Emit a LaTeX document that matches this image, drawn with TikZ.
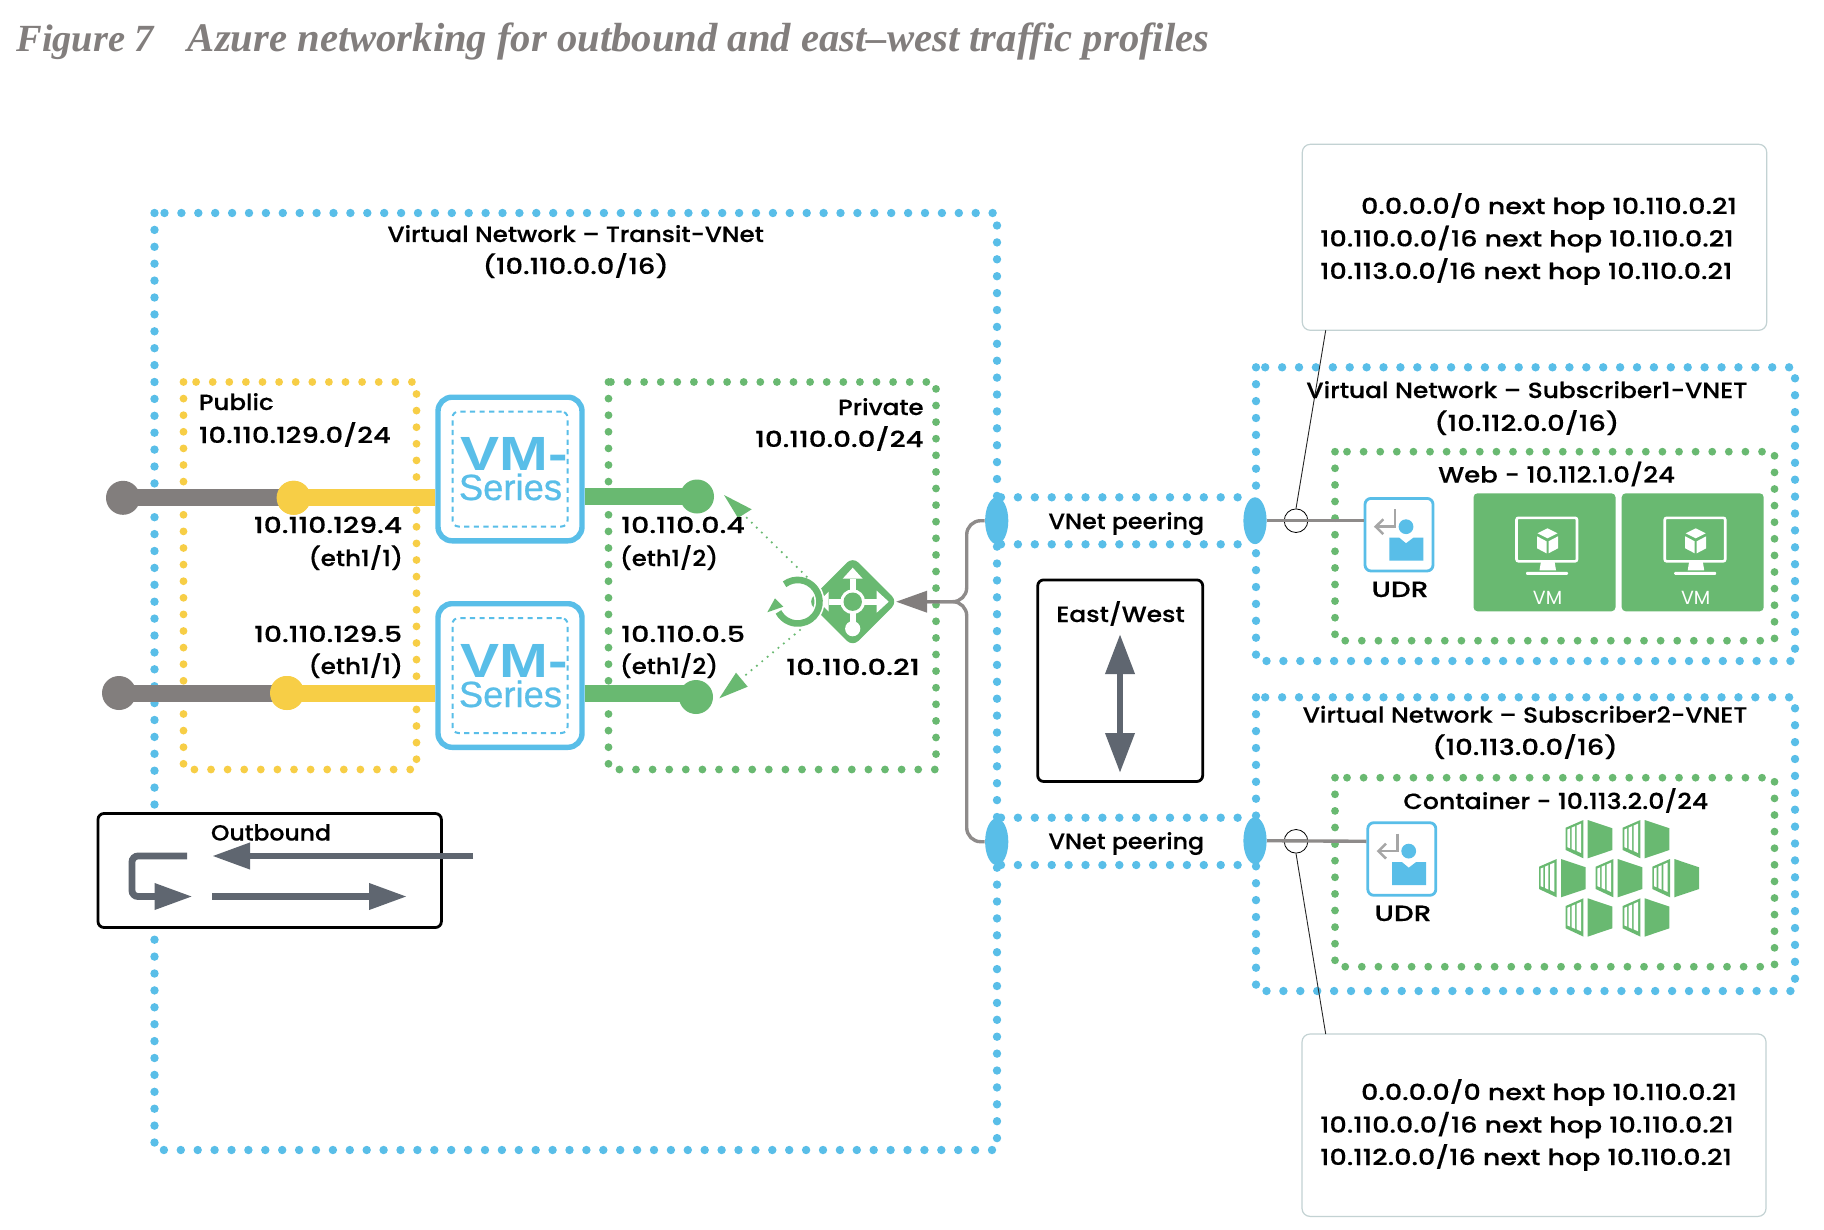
\documentclass[tikz,border=0pt]{standalone}
\usepackage{graphicx}
\usepackage{fontspec}
\usetikzlibrary{arrows.meta,shapes.geometric}
\setmainfont{Poppins Medium}[FakeBold=0.35]
\newfontfamily\lightf{Poppins}
\newfontfamily\ttlfont{Liberation Serif}
\newfontfamily\vmfont{Liberation Sans}[FakeBold=0.7]
\newfontfamily\vmwide{Liberation Sans}[FakeStretch=1.22]
\newcommand{\sx}[2]{\scalebox{#1}[1]{#2}}
\definecolor{azblue}{HTML}{59BEE8}
\definecolor{azgreen}{HTML}{69B971}
\definecolor{azyellow}{HTML}{F7CE46}
\definecolor{azgrey}{HTML}{827E7D}
\definecolor{azslate}{HTML}{5F6670}
\definecolor{azbox}{HTML}{C3D2D3}
\tikzset{
  dotsblue/.style={draw=azblue,line width=4.2pt,line cap=round,dash pattern=on 0pt off 8.45pt},
  dotsgreen/.style={draw=azgreen,line width=3.9pt,line cap=round,dash pattern=on 0pt off 8.3pt},
  dotsyellow/.style={draw=azyellow,line width=3.9pt,line cap=round,dash pattern=on 0pt off 8.3pt},
  lbl/.style={anchor=base,inner sep=0pt,text=black,font=\fontsize{11}{13}\selectfont},
  lblL/.style={lbl,anchor=base west},
  lblR/.style={lbl,anchor=base east},
  fatline/.style={line width=8.5pt},
  dotc/.style={circle,inner sep=0pt,minimum size=17pt},
  vmbox/.style={draw=azblue,line width=2.7pt,rounded corners=7pt,fill=white,minimum width=72pt,minimum height=71.8pt,inner sep=0pt},
  vminner/.style={draw=azblue,line width=1pt,dash pattern=on 2.6pt off 2.2pt,rounded corners=3pt,minimum width=57.5pt,minimum height=57.5pt,inner sep=0pt},
  peer/.style={ellipse,fill=azblue,inner sep=0pt,minimum width=11.6pt,minimum height=23.4pt},
  ring/.style={circle,draw=black,line width=0.4pt,inner sep=0pt,minimum size=11.8pt},
  udrbox/.style={draw=azblue,line width=1.4pt,rounded corners=3pt,fill=white,inner sep=0pt,minimum width=34pt,minimum height=36.3pt},
  routebox/.style={draw=azbox,line width=0.6pt,rounded corners=4pt,fill=white,inner sep=0pt},
  legendbox/.style={draw=black,line width=1.4pt,rounded corners=3pt,fill=white,inner sep=0pt},
  slatearrow/.style={draw=azslate,line width=3.4pt,-{Triangle[length=19pt,width=12.5pt,fill=azslate]}},
  greyline/.style={draw=azgrey!90!white,line width=1.7pt},
  thinline/.style={draw=black!85,line width=0.45pt},
}
% VM tile: top-left x,y
\newcommand{\vmtile}[3]{%
  \node (#3) [fill=azgreen,rounded corners=2pt,minimum width=71pt,minimum height=59pt,inner sep=0pt] at (#1+71,#2+59) {};
  \begin{scope}[shift={(#1,#2)}]
    \draw[white,line width=1.3pt,rounded corners=1pt] (43,24.5) rectangle (103.5,68);
    \fill[white] (67.5,68) -- (81,68) -- (82.5,77) -- (66,77) -- cycle;
    \fill[white,rounded corners=0.5pt] (52.5,78.5) rectangle (94.5,81.5);
    \fill[white] (74,35) -- (84,40) -- (74,45) -- (64,40) -- cycle;
    \fill[white] (63.5,43) -- (73,48) -- (73,60) -- (63.5,55) -- cycle;
    \fill[white] (84.5,43) -- (75,48) -- (75,60) -- (84.5,55) -- cycle;
    \node (#3t) [inner sep=0pt,text=white,anchor=base,font=\lightf\fontsize{9.5}{11}\selectfont] at (74,111) {VM};
  \end{scope}}
% UDR glyph inside a box whose top-left is x,y
\newcommand{\udrglyph}[2]{%
  \begin{scope}[shift={(#1,#2)}]
    \draw[color=black!35,line width=1.25pt] (30,11) -- (30,28.4) -- (11,28.4);
    \draw[color=black!35,line width=1.25pt] (18.3,21) -- (10.7,28.4) -- (18.3,35.8);
    \fill[azblue] (41,28.4) circle[radius=3.7pt];
    \fill[azblue] (24.3,39.4) -- (34.3,39.4) -- (41,45) -- (48.3,39.4) -- (58.3,39.4) -- (58.3,62.4) -- (24.3,62.4) -- cycle;
  \end{scope}}
% container glyph, top-left x,y
\newcommand{\cont}[2]{%
  \begin{scope}[shift={(#1,#2)}]
    \fill[azgreen] (0,7.7) -- (17.7,0) -- (17.7,38.3) -- (0,30) -- cycle;
    \fill[azgreen] (22,0) -- (46.7,8.3) -- (46.7,30) -- (22,38.3) -- cycle;
    \fill[white] (1.7,9.5) -- (4.3,8.4) -- (4.3,28.2) -- (1.7,27.2) -- cycle;
    \fill[white] (6,7.6) -- (9.3,6.2) -- (9.3,30.5) -- (6,29) -- cycle;
    \fill[white] (11,5.5) -- (15.3,3.6) -- (15.3,33) -- (11,31) -- cycle;
  \end{scope}}
\begin{document}
\begin{tikzpicture}[x=0.5pt,y=-0.5pt]
\useasboundingbox (0,0) rectangle (1824,1230);
\fill[white] (0,0) rectangle (1824,1230);

\node (titleA) [anchor=base west,inner sep=0pt,text=azgrey,font=\ttlfont\bfseries\itshape\fontsize{19.2}{24}\selectfont] at (16,51.7) {Figure 7};
\node (titleB) [anchor=base west,inner sep=0pt,text=azgrey,font=\ttlfont\bfseries\itshape\fontsize{20.33}{24}\selectfont] at (187.5,51.7) {Azure networking for outbound and east–west traffic profiles};

% dotted regions
\draw[dotsblue] (154.5,213) rectangle (997,1150);
\draw[dotsyellow] (183.5,382) rectangle (416.5,769.5);
\draw[dotsgreen] (608.5,382) rectangle (936,769.5);
\draw[dotsblue] (1001,497.3) -- (1245,497.3);
\draw[dotsblue] (1001,544.3) -- (1245,544.3);
\draw[dotsblue] (1001,817.7) -- (1245,817.7);
\draw[dotsblue] (1001,865) -- (1245,865);
\draw[dotsblue] (1256,367.3) rectangle (1795,661);
\draw[dotsgreen] (1335,451.7) rectangle (1774.5,640.7);
\draw[dotsblue] (1256,697.3) rectangle (1795,991);
\draw[dotsgreen] (1335,777.7) rectangle (1774.5,966.7);

% route boxes
\node (routeA) [routebox,minimum width=232.2pt,minimum height=93pt] at (1534.5,237.3) {};
\node (routeB) [routebox,minimum width=232pt,minimum height=91.2pt] at (1534,1125.2) {};

% firewalls
\node (vmA) [vmbox] at (510,469) {};
\node (vmB) [vmbox] at (510,675.5) {};
\node (vmAi) [vminner] at (510,469) {};
\node (vmBi) [vminner] at (510,675.5) {};
\node (vmAa) [inner sep=0pt,anchor=base,text=azblue,font=\vmwide\bfseries\fontsize{24}{26}\selectfont] at (514,470) {VM-};
\node (vmAb) [inner sep=0pt,anchor=base,text=azblue,font=\vmfont\fontsize{18.2}{20}\selectfont] at (510.5,500) {Series};
\node (vmBa) [inner sep=0pt,anchor=base,text=azblue,font=\vmwide\bfseries\fontsize{24}{26}\selectfont] at (514,677) {VM-};
\node (vmBb) [inner sep=0pt,anchor=base,text=azblue,font=\vmfont\fontsize{18.2}{20}\selectfont] at (510.5,707) {Series};

% interface lines
\node (ga) [dotc,fill=azgrey] at (123,497.8) {};
\node (ya) [dotc,fill=azyellow] at (293.6,497.8) {};
\node (gb) [dotc,fill=azgrey] at (119,693) {};
\node (yb) [dotc,fill=azyellow] at (287,693) {};
\node (pa) [dotc,fill=azgreen] at (697,496.5) {};
\node (pb) [dotc,fill=azgreen] at (696,697) {};
\coordinate (pbj) at (696,693);
\draw[fatline,azyellow] (ya.center) -- (vmA.west |- ya.center);
\draw[fatline,azyellow] (yb.center) -- (vmB.west |- yb.center);
\draw[fatline,azgrey] (ga.center) -- (ya.center);
\draw[fatline,azgrey] (gb.center) -- (yb.center);
\draw[fatline,azgreen] (vmA.east |- pa.center) -- (pa.center);
\draw[fatline,azgreen] (vmB.east |- pbj) -- (pbj);
\node (ya2) [dotc,fill=azyellow] at (ya) {};
\node (yb2) [dotc,fill=azyellow] at (yb) {};

% load balancer
\node (router) [diamond,fill=azgreen,rounded corners=4pt,inner sep=0pt,minimum width=45pt,minimum height=45pt] at (852.7,601.7) {};
\begin{scope}[shift={(852.7,601.7)}]
  \draw[white,line width=3.2pt] (0,0) -- (24,0);
  \fill[white] (24,-11) -- (36,0) -- (24,11) -- cycle;
  \draw[white,line width=3.2pt] (0,0) -- (0,-23);
  \fill[white] (-10,-23) -- (0,-34) -- (10,-23) -- cycle;
  \draw[white,line width=3.2pt] (0,0) -- (-24,0);
  \fill[white] (-24,-10) -- (-24,10) -- (-34,0) -- cycle;
  \draw[white,line width=3.2pt] (0,0) -- (0,27);
  \fill[white] (0,27) circle[radius=3.8pt];
  \fill[white] (0,0) circle[radius=6.2pt];
  \fill[azgreen] (0,0) circle[radius=4.6pt];
\end{scope}
\coordinate (swirl) at (797.7,601.7);
\draw[white,line width=5pt] (swirl) ++(127:10.9pt) arc[start angle=127,end angle=-152,radius=10.9pt];
\draw[azgreen,line width=3.3pt] (swirl) ++(127:10.9pt) arc[start angle=127,end angle=-152,radius=10.9pt];
\fill[azgreen] (775,598.3) -- (767.3,612.3) -- (783.3,606.7) -- cycle;

% dotted links to private interfaces
\coordinate (dA) at (806.7,576.7);
\coordinate (tA) at (724,495);
\coordinate (dB) at (800,630);
\coordinate (tB) at (719.3,698.3);
\draw[azgreen,line width=1.2pt,dash pattern=on 0pt off 3.5pt,line cap=round] (dA) -- (745,516);
\draw[azgreen,line width=1.2pt,dash pattern=on 0pt off 3.5pt,line cap=round] (dB) -- (742,678);
\fill[azgreen] (tA) -- (751.7,509.3) -- (738,518) -- cycle;
\fill[azgreen] (tB) -- (736,672.7) -- (747.7,686.7) -- cycle;

% peerings
\node (ptl) [peer] at (996.7,520.7) {};
\node (ptr) [peer] at (1255,520.7) {};
\node (pbl) [peer] at (996.7,841.7) {};
\node (pbr) [peer] at (1255,840.7) {};
\draw[greyline,rounded corners=7pt] (ptl.west) -- (966.7,520.7) -- (966.7,601.7) -- (926,601.7);
\draw[greyline,rounded corners=7pt] (pbl.west) -- (966.7,841.7) -- (966.7,601.7) -- (926,601.7);
\draw[azgrey,line width=1.7pt,-{Triangle[length=15.5pt,width=10.5pt]}] (940,601.7) -- (896,601.7);

% UDRs and rings
\node (udrA) [udrbox] at (1399,534.7) {};
\node (udrB) [udrbox] at (1401.8,859) {};
\udrglyph{1365}{498.3}
\udrglyph{1367.7}{822.7}
\node (ringA) [ring] at (1296,520.7) {};
\node (ringB) [ring] at (1296,841.3) {};
\draw[greyline] (ptr.east) -- (udrA.west |- ptr);
\draw[greyline] (pbr.east) -- (udrB.west |- ringB);
\coordinate (ca) at (1325.7,330.3);
\coordinate (cb) at (1325.7,1034);
\draw[thinline] (ca) -- (ringA.north);
\draw[thinline] (cb) -- (ringB.south);

% VM tiles
\vmtile{1473.5}{493.3}{vmT}
\vmtile{1621.7}{493.3}{vmU}

% containers
\cont{1565.7}{820}
\cont{1622.7}{820}
\cont{1539}{859}
\cont{1595.7}{859}
\cont{1652.3}{859}
\cont{1565.7}{898.3}
\cont{1622.7}{898.3}

% East/West
\node (ew) [legendbox,minimum width=82.5pt,minimum height=100.8pt] at (1120.2,680.7) {};
\coordinate (ewA) at (1120,634);
\coordinate (ewB) at (1120,773);
\draw[azslate,line width=3.4pt,{Triangle[length=20pt,width=14pt]}-{Triangle[length=20pt,width=14pt]}] (ewA) -- (ewB);

% Outbound legend
\node (leg) [legendbox,minimum width=171.7pt,minimum height=57pt] at (269.7,870.5) {};
\coordinate (l1) at (473,856);
\coordinate (l2) at (212,856);
\coordinate (l3) at (212,896.5);
\coordinate (l4) at (407,896.5);
\coordinate (l5) at (187,856);
\coordinate (l6) at (192.5,896.5);
\draw[slatearrow] (l1) -- (l2);
\draw[slatearrow] (l3) -- (l4);
\draw[slatearrow,rounded corners=3pt] (l5) -- (132,856) -- (132,896.5) -- (l6);

% text
\begin{scope}[yshift=-0.5pt]
\node (t1) [lbl] at (575.7,241) {\sx{1.115}{Virtual Network – Transit-VNet}};
\node (t2) [lbl] at (575.7,273) {\sx{1.24}{(10.110.0.0/16)}};
\node (t3) [lblL] at (198.5,409) {\sx{1.115}{Public}};
\node (t4) [lblL] at (198.5,442) {\sx{1.247}{10.110.129.0/24}};
\node (t5) [lblR] at (924,414) {\sx{1.115}{Private}};
\node (t6) [lblR] at (924,446) {\sx{1.26}{10.110.0.0/24}};
\node (t7) [lblR] at (402.5,532) {\sx{1.28}{10.110.129.4}};
\node (t8) [lblR] at (403.5,565) {\sx{1.12}{(eth1/1)}};
\node (t9) [lblR] at (402.5,641) {\sx{1.28}{10.110.129.5}};
\node (t10) [lblR] at (403.5,673) {\sx{1.12}{(eth1/1)}};
\node (t11) [lblL] at (620.7,532) {\sx{1.295}{10.110.0.4}};
\node (t12) [lblL] at (619.5,565) {\sx{1.10}{(eth1/2)}};
\node (t13) [lblL] at (620.7,641) {\sx{1.30}{10.110.0.5}};
\node (t14) [lblL] at (619.5,673) {\sx{1.10}{(eth1/2)}};
\node (t15) [lbl] at (853,674) {\sx{1.315}{10.110.0.21}};
\node (t16) [lbl] at (1126.3,528) {\sx{1.08}{VNet peering}};
\node (t17) [lbl] at (1126.3,848) {\sx{1.08}{VNet peering}};
\node (t18) [lbl] at (1120.5,621) {\sx{1.135}{East/West}};
\node (t19) [lbl] at (271,839.5) {\sx{1.07}{Outbound}};
\node (t20) [lbl] at (1526.8,397) {\sx{1.13}{Virtual Network – Subscriber1-VNET}};
\node (t21) [lbl] at (1526.8,430) {\sx{1.245}{(10.112.0.0/16)}};
\node (t22) [lbl] at (1556.6,481.5) {\sx{1.18}{Web - 10.112.1.0/24}};
\node (t23) [lbl] at (1525,721.7) {\sx{1.125}{Virtual Network – Subscriber2-VNET}};
\node (t24) [lbl] at (1525,754) {\sx{1.245}{(10.113.0.0/16)}};
\node (t25) [lbl] at (1555.8,808) {\sx{1.146}{Container - 10.113.2.0/24}};
\node (t26) [lbl] at (1400,596) {\sx{1.27}{UDR}};
\node (t27) [lbl] at (1403,920) {\sx{1.27}{UDR}};
\node (t28) [lblL] at (1360.7,213) {\sx{1.225}{0.0.0.0/0 next hop 10.110.0.21}};
\node (t29) [lblL] at (1319.7,245.5) {\sx{1.225}{10.110.0.0/16 next hop 10.110.0.21}};
\node (t30) [lblL] at (1319.7,278) {\sx{1.225}{10.113.0.0/16 next hop 10.110.0.21}};
\node (t31) [lblL] at (1360.7,1099) {\sx{1.225}{0.0.0.0/0 next hop 10.110.0.21}};
\node (t32) [lblL] at (1319.7,1131.6) {\sx{1.225}{10.110.0.0/16 next hop 10.110.0.21}};
\node (t33) [lblL] at (1319.7,1164) {\sx{1.225}{10.112.0.0/16 next hop 10.110.0.21}};
\end{scope}
\end{tikzpicture}
\end{document}
